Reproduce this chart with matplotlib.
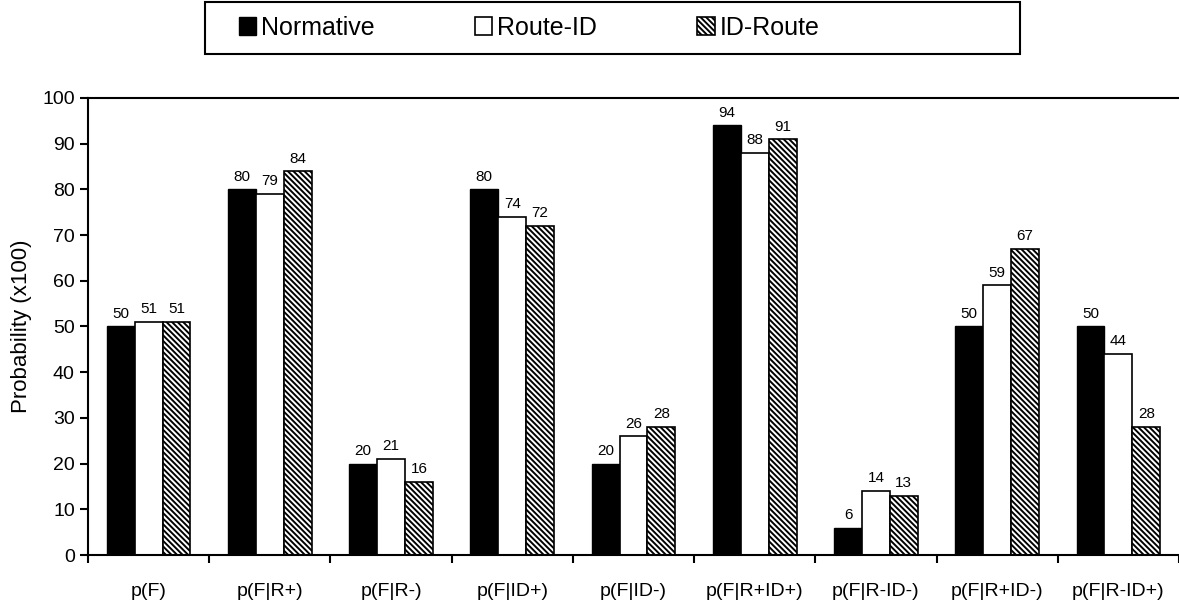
import matplotlib.pyplot as plt
from matplotlib.patches import Rectangle
import numpy as np

plt.rcParams['font.family'] = ['Liberation Sans', 'DejaVu Sans']
plt.rcParams['hatch.linewidth'] = 1.4

categories = ['p(F)', 'p(F|R+)', 'p(F|R-)', 'p(F|ID+)', 'p(F|ID-)',
              'p(F|R+ID+)', 'p(F|R-ID-)', 'p(F|R+ID-)', 'p(F|R-ID+)']
normative = [50, 80, 20, 80, 20, 94, 6, 50, 50]
route_id = [51, 79, 21, 74, 26, 88, 14, 59, 44]
id_route = [51, 84, 16, 72, 28, 91, 13, 67, 28]

fig = plt.figure(figsize=(11.79, 6.03), dpi=100)
ax = fig.add_axes([0.0746, 0.0796, 0.9254, 0.7579])

x = np.arange(len(categories))
w = 0.23

b1 = ax.bar(x - w, normative, w, color='black', edgecolor='black', linewidth=1, label='Normative')
b2 = ax.bar(x, route_id, w, color='white', edgecolor='black', linewidth=1.2, label='Route-ID')
b3 = ax.bar(x + w, id_route, w, color='white', edgecolor='black', linewidth=1.2,
            hatch='\\\\\\\\\\\\', label='ID-Route')

for bars in (b1, b2, b3):
    ax.bar_label(bars, padding=4, fontsize=11)

ax.set_xlim(-0.5, len(categories) - 0.5)
ax.set_ylim(0, 100)
ax.set_yticks(range(0, 101, 10))
ax.set_xticks(x)
ax.set_xticklabels(categories)
ax.set_xticks(np.arange(-0.5, len(categories)), minor=True)
ax.tick_params(axis='x', which='major', length=0, pad=20, labelsize=14)
ax.tick_params(axis='x', which='minor', length=6, width=1.5, direction='out')
ax.tick_params(axis='y', length=6, width=1.5, direction='out', labelsize=14)
ax.set_ylabel('Probability (x100)', fontsize=16, labelpad=7)

ax.spines['right'].set_visible(False)
for s in ('top', 'left', 'bottom'):
    ax.spines[s].set_linewidth(1.5)

# legend without its own frame, box drawn separately
fig.legend(handles=[b1, b2, b3], loc='center', bbox_to_anchor=(0.4487, 0.9536),
           ncol=3, fontsize=18, frameon=False,
           handlelength=0.7, handleheight=0.7,
           handletextpad=0.2, columnspacing=4.0)
fig.patches.append(Rectangle((205 / 1179, 1 - 54 / 603), 815 / 1179, 52 / 603,
                             transform=fig.transFigure, fill=False,
                             edgecolor='black', linewidth=1.5))

fig.savefig('out.png', dpi=100)
